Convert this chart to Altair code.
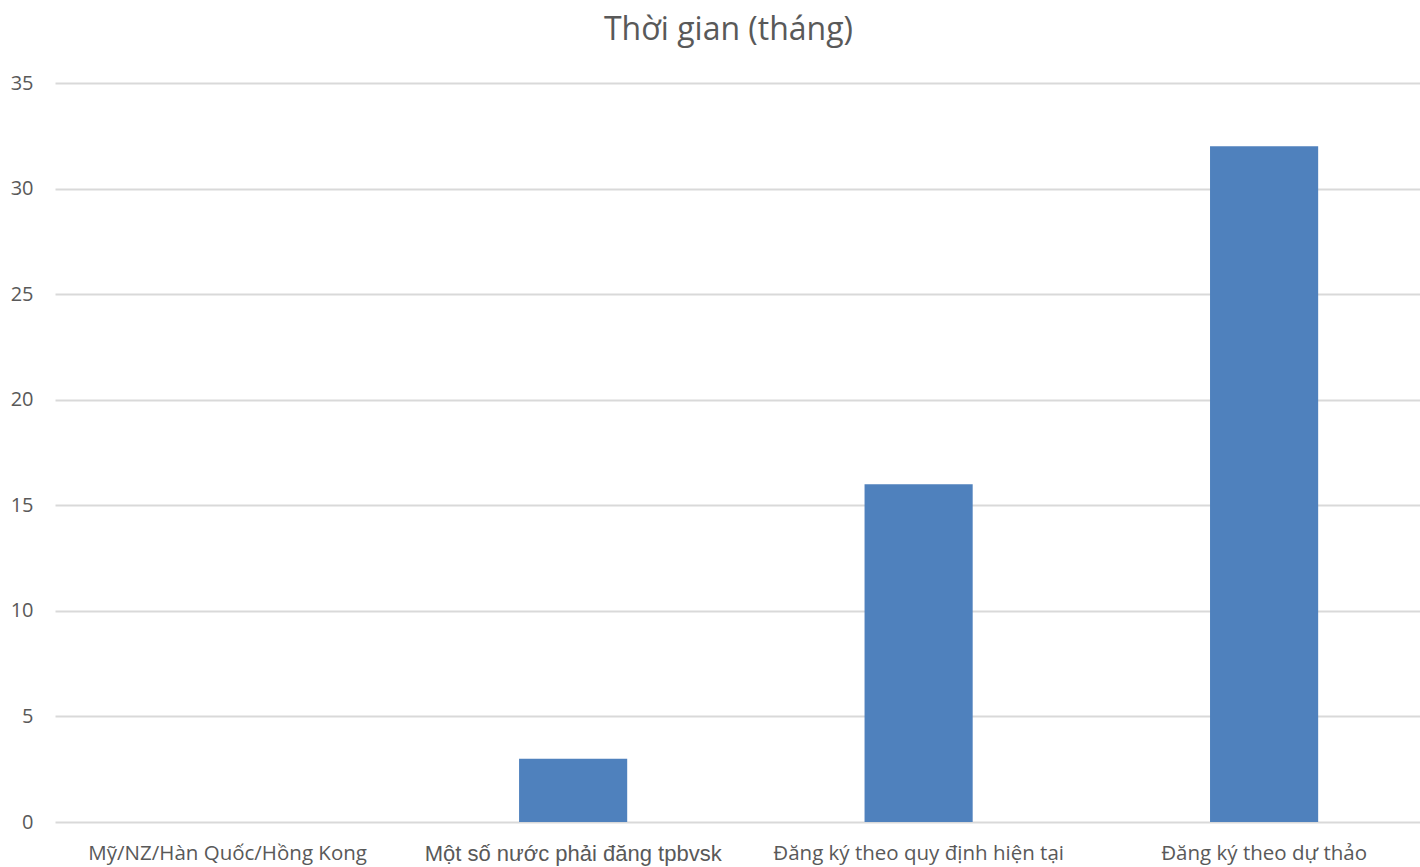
import altair as alt
import pandas as pd

categories = ["Mỹ/NZ/Hàn Quốc/Hồng Kong", "Một số nước phải đăng tpbvsk",
              "Đăng ký theo quy định hiện tại", "Đăng ký theo dự thảo"]
values = [0, 3, 16, 32]

df = pd.DataFrame({"cat": categories, "val": values})

label_font = {"condition": {"test": "datum.value == '" + categories[1] + "'",
                            "value": "Liberation Sans"},
              "value": "Open Sans"}
label_size = {"condition": {"test": "datum.value == '" + categories[1] + "'",
                            "value": 22},
              "value": 20.5}

chart = alt.Chart(df).mark_bar(color="#4f81bd").encode(
    x=alt.X("cat:N", sort=categories, title=None,
            scale=alt.Scale(paddingInner=0.687, paddingOuter=0.319, align=0.538),
            axis=alt.Axis(labelAngle=0, labelFontSize=label_size, labelColor="#595959",
                          labelFont=label_font, domain=False, ticks=False,
                          labelPadding=21, labelLimit=400)),
    y=alt.Y("val:Q", title=None,
            scale=alt.Scale(domain=[0, 35], nice=False),
            axis=alt.Axis(values=[0, 5, 10, 15, 20, 25, 30, 35], labelFontSize=20,
                          labelColor="#595959", labelFont="Open Sans", domain=False,
                          ticks=False, labelPadding=22, gridColor="#d9d9d9",
                          gridWidth=2)),
).properties(
    width=1365, height=739,
    title=alt.TitleParams("Thời gian (tháng)", fontSize=32, font="Open Sans",
                          fontWeight="normal", color="#595959", offset=26,
                          dx=-9),
    autosize=alt.AutoSizeParams(type="none"),
    padding={"left": 55, "top": 83, "right": 0, "bottom": 45},
).configure_view(stroke=None)

chart.save("out.html", embed_options={"renderer": "svg", "actions": False})
